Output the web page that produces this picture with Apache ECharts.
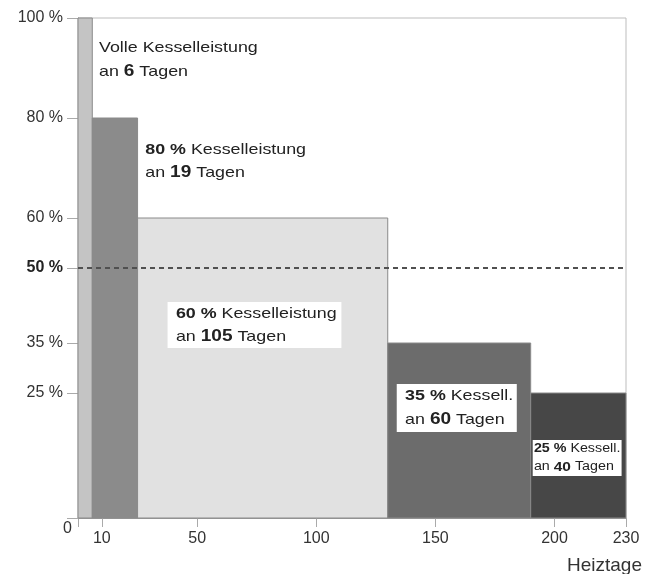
<!DOCTYPE html>
<html>
<head>
<meta charset="utf-8">
<script src="https://cdn.jsdelivr.net/npm/echarts@6/dist/echarts.min.js"></script>
<style>
  html, body { margin: 0; padding: 0; background: #fff; }
  #chart { width: 647px; height: 574px; }
</style>
</head>
<body>
<div id="chart"></div>
<script>
// Boiler load level (%) and number of heating days at that level
const loadPct = [100, 80, 60, 35, 25];
const heatingDays = [6, 19, 105, 60, 40];

// Axis ticks
const yTickValues = [0, 25, 35, 50, 60, 80, 100];
const xLabelValues = [10, 50, 100, 150, 200, 230];
const xTickValues = [0, 10, 50, 100, 150, 200, 230];
const refLevel = 50;

// Presentation
const barFills = ['#c4c4c4', '#8b8b8b', '#e1e1e1', '#6c6c6c', '#474747'];
const FONT = '"Liberation Sans", Arial, sans-serif';
const TEXT_STRETCH = 1.19;
const labelLayout = [
  { dx: 21, dy: 18, size: 15, lh: 24, box: false, pad: [0, 0, 0, 0] },
  { dx: 53, dy: 20, size: 15, lh: 23, box: false, pad: [0, 0, 0, 0] },
  { dx: 30, dy: 84, size: 15, lh: 23, box: true,  pad: [0, 4, 0, 7] },
  { dx: 9,  dy: 41, size: 15, lh: 24, box: true,  pad: [0, 3, 0, 7] },
  { dx: 2,  dy: 47, size: 12, lh: 18, box: true,  pad: [0, 1, 0, 1] }
];

// Step blocks: [start day, end day, load %, index]
const blocks = [];
let dayCursor = 0;
heatingDays.forEach((d, i) => {
  blocks.push([dayCursor, dayCursor + d, loadPct[i], i]);
  dayCursor += d;
});

function blockLabel(i) {
  const pct = loadPct[i];
  const d = heatingDays[i];
  let head;
  if (pct === 100) head = 'Volle Kesselleistung';
  else if (i >= 3) head = '{b|' + pct + ' %} Kessell.';
  else head = '{b|' + pct + ' %} Kesselleistung';
  return head + '\nan {B|' + d + '} Tagen';
}

function renderBlock(params, api) {
  const i = api.value(3);
  const p0 = api.coord([api.value(0), api.value(2)]);
  const p1 = api.coord([api.value(1), 0]);
  const L = labelLayout[i];
  const textStyle = {
    text: blockLabel(i),
    fill: '#222',
    fontFamily: FONT,
    fontSize: L.size,
    lineHeight: L.lh,
    align: 'left',
    verticalAlign: 'top',
    padding: L.pad,
    rich: {
      b: { fontWeight: 'bold', fontSize: L.size, lineHeight: L.lh, fontFamily: FONT, fill: '#222' },
      B: { fontWeight: 'bold', fontSize: L.size + 1, lineHeight: L.lh, fontFamily: FONT, fill: '#222' }
    }
  };
  if (L.box) textStyle.backgroundColor = '#ffffff';
  return {
    type: 'group',
    children: [
      {
        type: 'rect',
        shape: { x: p0[0], y: p0[1], width: p1[0] - p0[0], height: p1[1] - p0[1] },
        style: { fill: barFills[i], stroke: '#8a8a8a', lineWidth: 1 }
      },
      {
        type: 'text',
        x: p0[0] + L.dx,
        y: p0[1] + L.dy,
        scaleX: TEXT_STRETCH,
        z2: 10,
        style: textStyle
      }
    ]
  };
}

const chart = echarts.init(document.getElementById('chart'), null, { renderer: 'canvas' });
chart.setOption({
  animation: false,
  backgroundColor: '#ffffff',
  grid: {
    left: 78, right: 21, top: 18, bottom: 56,
    show: true, borderColor: '#bdbdbd', borderWidth: 1,
    containLabel: false, outerBoundsMode: 'none'
  },
  xAxis: {
    type: 'value',
    min: 0,
    max: 230,
    name: 'Heiztage',
    nameLocation: 'end',
    nameGap: 16,
    nameTextStyle: {
      fontFamily: FONT, fontSize: 19, color: '#333',
      align: 'right', verticalAlign: 'top', padding: [38, 0, 0, 0]
    },
    splitLine: { show: false },
    axisLine: { show: true, lineStyle: { color: '#9a9a9a', width: 1 } },
    axisTick: { show: true, length: 9, customValues: xTickValues, lineStyle: { color: '#aaaaaa' } },
    axisLabel: {
      customValues: xLabelValues,
      margin: 13,
      fontFamily: FONT, fontSize: 16, color: '#333'
    }
  },
  yAxis: {
    type: 'value',
    min: 0,
    max: 100,
    splitLine: { show: false },
    axisLine: { show: true, lineStyle: { color: '#9a9a9a', width: 1 } },
    axisTick: { show: true, length: 11, customValues: yTickValues, lineStyle: { color: '#aaaaaa' } },
    axisLabel: {
      customValues: yTickValues,
      margin: 6,
      fontFamily: FONT, fontSize: 16, color: '#333',
      lineHeight: 22,
      formatter: function (v) {
        if (v === 0) return '\n0';
        if (v === refLevel) return '{bb|' + v + ' %}';
        return '{n|' + v + ' %}';
      },
      rich: {
        n: { padding: [0, 9, 0, 0], fontFamily: FONT, fontSize: 16, color: '#333' },
        bb: { padding: [0, 9, 0, 0], fontFamily: FONT, fontSize: 16, color: '#222', fontWeight: 'bold' }
      }
    }
  },
  series: [
    {
      type: 'custom',
      renderItem: renderBlock,
      encode: { x: [0, 1], y: 2 },
      data: blocks,
      silent: true,
      markLine: {
        silent: true,
        symbol: ['none', 'none'],
        label: { show: false },
        lineStyle: { color: '#505050', type: [5, 4], width: 2 },
        data: [{ yAxis: refLevel }]
      }
    }
  ]
});
</script>
</body>
</html>
